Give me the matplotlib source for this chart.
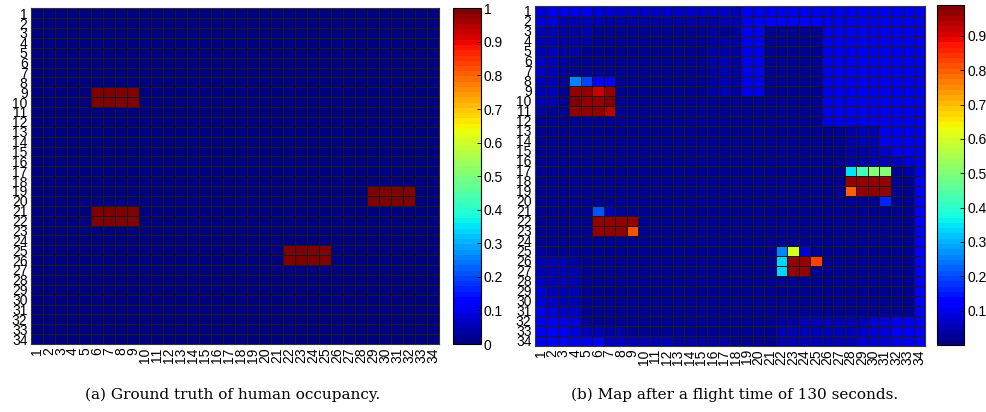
import numpy as np
import matplotlib
matplotlib.use("Agg")
import matplotlib.pyplot as plt
from matplotlib.colors import Normalize

plt.rcParams['font.family'] = ['Liberation Sans', 'DejaVu Sans']

GRID_N = 34
cell_labels = [str(i) for i in range(1, GRID_N + 1)]

# Ground-truth occupied blocks: (first row, last row, first col, last col), 1-based
occupied_blocks = [
    (9, 10, 6, 9),
    (21, 22, 6, 9),
    (19, 20, 29, 32),
    (25, 26, 22, 25),
]

# Occupancy probability map after 130 s of flight, in percent (rows 1..34, cols 1..34)
belief_pct = [
    [9,10,10,10,10,8,8,7,7,7,7,7,7,7,7,7,7, 5,10,10,10,10,10,10,10,10,10,10,10,10,10,10,10,10],
    [8,8,5,5,6,5,4,4,4,4,4,4,4,4,4,4,5, 5,10,11,11,11,11,11,11,10,10,10,10,10,10,10,10,10],
    [6,6,4,4,5,3,2,2,2,2,2,2,2,2,3,4,3, 4,10,10,2,2,2,2,2,10,10,10,10,10,10,10,10,10],
    [6,5,4,4,4,3,2,2,2,2,2,2,2,2,3,4,4, 4,10,10,2,2,2,2,2,10,10,10,10,10,10,10,10,10],
    [6,5,4,4,3,3,2,2,2,2,2,2,2,2,3,4,4, 4,10,10,2,2,2,2,2,10,10,10,10,10,10,10,10,10],
    [7,5,4,3,3,2,2,2,2,2,2,2,2,2,3,4,5, 4,10,10,2,2,2,2,2,10,10,10,10,10,10,10,10,10],
    [7,6,4,3,3,2,2,2,2,2,2,2,2,2,3,4,5, 4,10,10,2,2,2,2,2,10,10,10,10,10,10,10,10,10],
    [6,5,3,25,20,13,12,2,2,2,2,2,2,2,3,4,5, 4,10,10,2,2,2,2,2,10,10,10,10,10,10,10,10,10],
    [6,5,3,97,96,92,97,2,2,2,2,2,2,2,2,4,5, 4,10,10,2,2,2,2,2,10,10,10,10,10,10,10,10,10],
    [6,5,3,98,97,96,98,2,2,2,2,2,2,2,2,3,3, 2,2,2,2,2,2,3,3,10,10,10,10,10,10,10,10,10],
    [4,3,2,97,96,96,93,2,2,2,2,2,2,2,2,3,3, 2,2,2,2,2,2,3,3,10,10,10,10,10,10,10,10,10],
    [3,2,2,2,2,2,2,2,2,2,2,2,2,2,2,2,2, 2,2,2,2,2,2,3,3,10,10,10,10,10,10,10,10,10],
    [3,2,2,2,2,2,2,2,2,2,2,2,2,2,2,2,2, 2,2,2,2,2,2,2,3,3,3,4,5,6,10,10,10,10],
    [2,2,2,2,2,2,2,2,2,2,2,2,2,2,2,2,2, 2,2,2,2,2,2,2,3,3,3,4,5,6,10,10,10,10],
    [2,2,2,2,2,2,2,2,2,2,2,2,2,2,2,2,2, 2,2,2,2,2,2,2,3,3,3,4,4,6,7,10,10,10],
    [2,2,2,2,2,2,2,2,2,2,2,2,2,2,2,2,2, 2,2,2,2,2,2,2,2,3,3,4,4,5,5,6,9,10],
    [2,2,2,2,2,2,2,2,2,2,2,2,2,2,2,2,2, 2,2,2,2,2,2,2,2,2,2,35,42,51,51,3,4,10],
    [2,2,2,2,2,2,2,2,2,2,2,2,2,2,2,2,2, 2,2,2,2,2,2,2,2,2,2,97,97,97,97,2,2,11],
    [2,2,2,2,2,2,2,2,2,2,2,2,2,2,2,2,2, 2,2,2,2,2,2,2,2,2,2,79,97,97,97,2,2,11],
    [2,2,2,2,2,2,3,2,2,2,2,2,2,2,2,2,2, 2,2,2,2,2,2,2,2,2,2,2,2,2,16,2,2,11],
    [2,2,2,2,2,21,6,2,2,2,2,2,2,2,2,2,2, 2,2,2,2,2,2,2,2,2,2,2,2,2,2,2,2,11],
    [2,2,2,2,3,97,97,97,97,2,2,2,2,2,2,2,2, 2,2,2,2,2,2,2,2,2,2,2,2,2,2,2,2,11],
    [2,2,2,2,3,97,97,97,81,2,2,2,2,2,2,2,2, 2,2,2,2,2,2,2,2,2,2,2,2,2,2,2,2,11],
    [2,2,2,2,2,2,2,2,2,2,2,2,2,2,2,2,2, 2,2,2,2,2,2,2,2,2,2,2,2,2,2,2,2,11],
    [4,3,3,3,2,2,2,2,2,2,2,2,2,2,2,2,2, 2,2,2,2,26,59,8,2,2,2,2,2,2,2,2,2,11],
    [5,5,5,4,2,2,2,2,2,2,2,2,2,2,2,2,2, 2,2,2,3,34,97,97,83,3,2,2,2,2,2,2,2,11],
    [6,5,6,5,2,2,2,2,2,2,2,2,2,2,2,2,2, 2,2,2,2,34,97,97,2,2,2,2,2,2,2,2,2,11],
    [7,5,5,5,2,2,2,2,2,2,2,2,2,2,2,2,2, 2,2,2,2,2,2,2,2,2,2,2,2,2,2,2,2,11],
    [8,6,6,6,2,2,2,2,2,2,2,2,2,2,2,2,2, 2,2,2,2,2,2,2,2,2,2,2,2,2,2,2,2,11],
    [9,7,6,6,2,2,2,2,2,2,2,2,2,2,2,2,2, 2,2,2,2,2,2,2,2,2,2,2,2,2,2,2,2,11],
    [10,8,7,7,3,2,2,2,2,2,2,2,2,2,2,2,2, 2,2,2,2,2,2,2,2,2,2,2,2,2,2,2,2,11],
    [10,10,10,8,3,3,2,2,2,2,2,2,2,2,2,2,2, 3,3,3,3,4,4,5,5,5,5,6,6,8,8,10,10,11],
    [11,11,11,9,5,5,4,4,3,3,3,3,3,3,3,3,3, 3,3,3,3,5,5,5,5,6,6,6,7,8,8,11,11,11],
    [11,11,11,10,10,11,7,7,6,6,5,5,4,4,4,4,4, 3,3,3,3,5,5,5,5,6,6,6,8,8,8,10,10,11],
]

caption_a = "(a) Ground truth of human occupancy."
caption_b = "(b) Map after a flight time of 130 seconds."

truth_ticks = [0, 0.1, 0.2, 0.3, 0.4, 0.5, 0.6, 0.7, 0.8, 0.9, 1]
belief_ticks = [0.1, 0.2, 0.3, 0.4, 0.5, 0.6, 0.7, 0.8, 0.9]

truth = np.zeros((GRID_N, GRID_N))
for r0, r1, c0, c1 in occupied_blocks:
    truth[r0 - 1:r1, c0 - 1:c1] = 1.0
belief = np.array(belief_pct, dtype=float) / 100.0

cmap = plt.get_cmap('jet', 64)
W, H = 987, 412
fig = plt.figure(figsize=(W / 100, H / 100), dpi=100)


def box(x0, y0, x1, y1):
    return [x0 / W, 1 - y1 / H, (x1 - x0) / W, (y1 - y0) / H]


def draw_map(ax, data, norm):
    edges = np.arange(0.5, GRID_N + 1, 1.0)
    mesh = ax.pcolormesh(edges, edges, data, cmap=cmap, norm=norm,
                         edgecolors='#1a1a1a', linewidth=0.6)
    ax.set_xlim(0.5, GRID_N + 0.5)
    ax.set_ylim(GRID_N + 0.5, 0.5)
    ax.set_xticks(range(1, GRID_N + 1))
    ax.set_yticks(range(1, GRID_N + 1))
    ax.set_xticklabels(cell_labels, rotation=90, fontsize=10)
    ax.set_yticklabels(cell_labels, fontsize=10)
    ax.tick_params(length=0, pad=2.5)
    for s in ax.spines.values():
        s.set_color('#333333')
        s.set_linewidth(0.8)
    return mesh


def draw_bar(cax, mesh, ticks, labels):
    cb = fig.colorbar(mesh, cax=cax)
    cb.set_ticks(ticks)
    cb.set_ticklabels(labels)
    cb.ax.tick_params(direction='in', length=3, width=0.6, labelsize=10, pad=2)
    cb.outline.set_linewidth(0.8)
    cb.outline.set_edgecolor('black')
    return cb


ax_a = fig.add_axes(box(31, 8.3, 439, 344))
cax_a = fig.add_axes(box(452.7, 8.3, 481, 344))
ax_b = fig.add_axes(box(535, 5.7, 925, 345.7))
cax_b = fig.add_axes(box(937.3, 5.0, 964.3, 345.0))

m_a = draw_map(ax_a, truth, Normalize(0, 1))
draw_bar(cax_a, m_a, truth_ticks, [f"{t:g}" for t in truth_ticks])

m_b = draw_map(ax_b, belief, Normalize(0.0, 0.99))
draw_bar(cax_b, m_b, belief_ticks, [f"{t:g}" for t in belief_ticks])

fig.text(233 / W, 1 - 395 / H, caption_a, ha='center', va='center',
         fontsize=11, family='DejaVu Serif')
fig.text(735 / W, 1 - 395 / H, caption_b, ha='center', va='center',
         fontsize=11, family='DejaVu Serif')

fig.savefig("out.png", dpi=100)
